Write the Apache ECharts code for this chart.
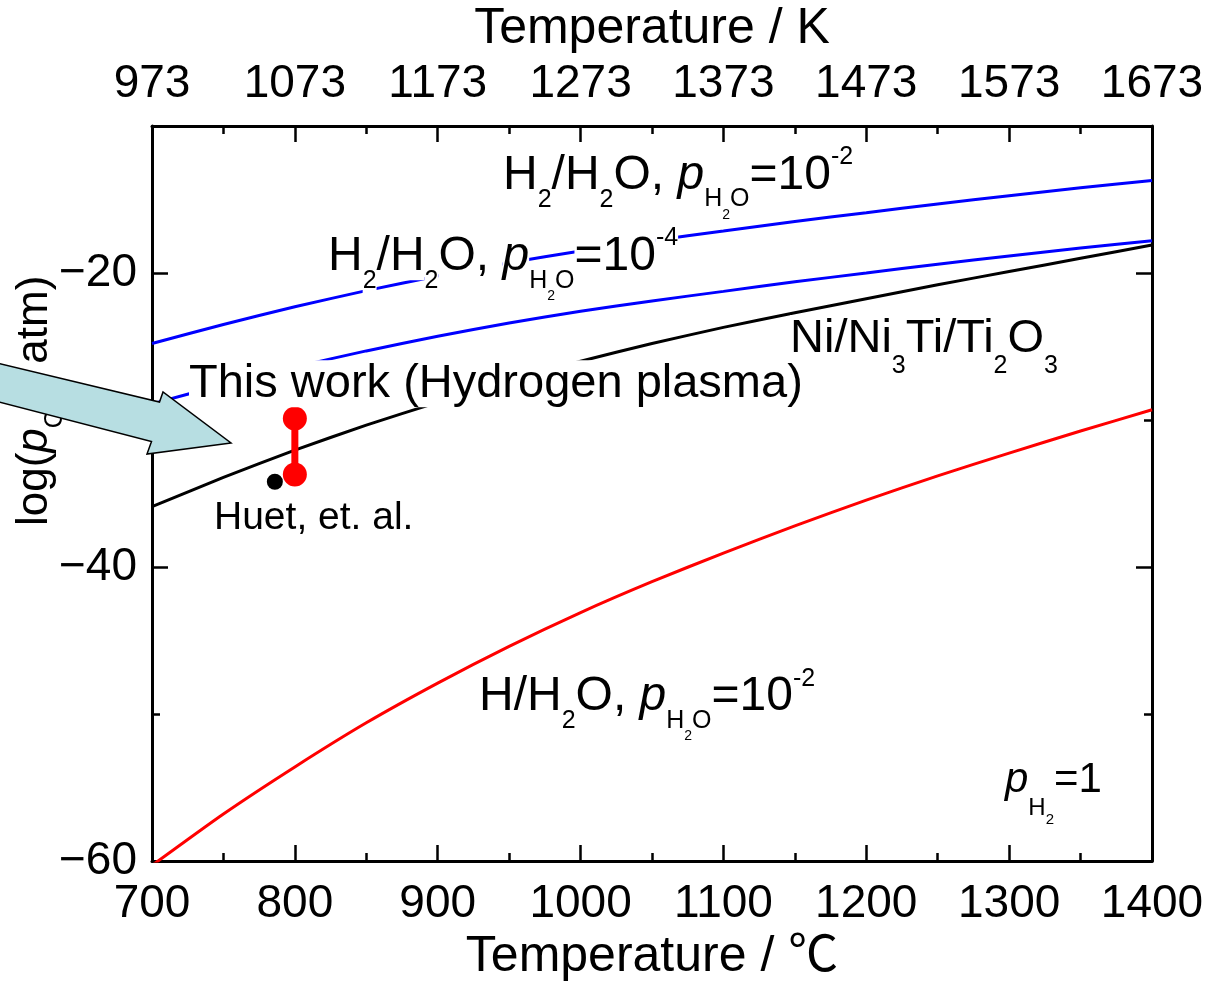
<!DOCTYPE html>
<html>
<head>
<meta charset="utf-8">
<script src="https://cdn.jsdelivr.net/npm/echarts@6.0.0/dist/echarts.min.js"></script>
<style>
  html, body { margin: 0; padding: 0; background: #fff; }
  #chart { width: 1221px; height: 984px; }
</style>
</head>
<body>
<div id="chart"></div>
<script>
// temperature grid (deg C) the curves were read at
const tempC = [700, 750, 800, 850, 900, 950, 1000, 1050, 1100, 1150, 1200, 1250, 1300, 1350, 1400];
// H2/H2O, pH2O = 1e-2
const h2High = [-24.8, -23.5, -22.3, -21.2, -20.2, -19.3, -18.5, -17.8, -17.15, -16.5, -15.9, -15.3, -14.75, -14.2, -13.7];
// H2/H2O, pH2O = 1e-4
const h2Low = [-28.9, -27.6, -26.4, -25.3, -24.3, -23.4, -22.6, -21.9, -21.25, -20.6, -20.0, -19.4, -18.85, -18.3, -17.8];
// Ni/Ni3Ti/Ti2O3 equilibrium
const niTi = [-35.9, -33.9, -32.05, -30.35, -28.8, -27.35, -26.0, -24.8, -23.7, -22.7, -21.75, -20.8, -19.9, -19.0, -18.1];
// H/H2O, pH2O = 1e-2
const hAtom = [-60.3, -56.8, -53.6, -50.6, -47.9, -45.4, -43.1, -41.0, -39.05, -37.2, -35.45, -33.8, -32.25, -30.75, -29.3];
// this work (range) and Huet et al.
const workX = [800, 800];
const workY = [-29.9, -33.7];
const huetX = [786];
const huetY = [-34.2];

const FONT = '"Liberation Sans", Arial, "Noto Sans CJK JP", sans-serif';
const mctx = document.createElement('canvas').getContext('2d');

// lay out text runs (with sub/superscripts) along a baseline
function runs(x0, base, parts, bg) {
  let x = x0;
  return parts.map(function (p) {
    const t = p[0], size = p[1], dy = p[2] || 0, italic = p[3];
    mctx.font = (italic ? 'italic ' : '') + size + 'px ' + FONT;
    const w = mctx.measureText(t).width;
    const el = {
      type: 'text',
      x: x,
      y: base + dy - 0.3465 * size,
      z: 50,
      style: {
        text: t,
        fontSize: size,
        fontFamily: FONT,
        fontStyle: italic ? 'italic' : 'normal',
        fill: '#000',
        align: 'left',
        verticalAlign: 'middle',
        backgroundColor: bg === false ? 'transparent' : '#fff'
      }
    };
    x += w;
    return el;
  });
}

function pairs(xs, ys) {
  return xs.map(function (t, i) { return [t, ys[i]]; });
}

const labels = [].concat(
  runs(503, 192, [['H', 48], ['2', 25, 17], ['/H', 48], ['2', 25, 17], ['O, ', 48], ['p', 48, 0, true],
    ['H', 25, 16], ['2', 14, 28], ['O', 25, 16], ['=10', 48], ['-2', 25, -26]]),
  runs(328, 273, [['H', 48], ['2', 25, 17], ['/H', 48], ['2', 25, 17], ['O, ', 48], ['p', 48, 0, true],
    ['H', 25, 17], ['2', 14, 28], ['O', 25, 17], ['=10', 48], ['-4', 25, -26]]),
  runs(189, 400, [['This work (Hydrogen plasma)', 47]]),
  runs(790, 355, [['Ni/Ni', 47], ['3', 25, 20], ['Ti/Ti', 47], ['2', 25, 20], ['O', 47], ['3', 25, 20]]),
  runs(214, 531.7, [['Huet, et. al.', 39]]),
  runs(479, 713, [['H/H', 48], ['2', 25, 17], ['O, ', 48], ['p', 48, 0, true],
    ['H', 25, 17], ['2', 14, 28], ['O', 25, 17], ['=10', 48], ['-2', 25, -25]]),
  runs(1005, 795, [['p', 42, 0, true], ['H', 24, 22], ['2', 15, 30], ['=1', 42]])
);

const yTitle = {
  type: 'group',
  x: 50,
  y: 526,
  rotation: Math.PI / 2,
  children: runs(0, 0, [['log(', 44], ['p', 44, 0, true], ['O', 25, 14], ['2', 15, 22], [' / atm)', 44]], false)
};

const arrow = {
  type: 'polygon',
  z: 200,
  shape: {
    points: [[-5, 362.5], [159.5, 402], [163, 392], [231, 443], [147, 454], [151.5, 441.5], [-5, 401]]
  },
  style: { fill: '#b7dee2', stroke: '#000', lineWidth: 1.5 }
};

const tickLabel = { color: '#000', fontSize: 46, fontFamily: FONT, lineHeight: 46 };
const axisLineStyle = { lineStyle: { color: '#000', width: 3 }, onZero: false };
const tickStyle = { inside: true, length: 16, lineStyle: { color: '#000', width: 2.5 } };
const minorStyle = { show: true, splitNumber: 2, length: 8, lineStyle: { color: '#000', width: 2.5 } };
const nameStyle = { color: '#000', fontSize: 50, fontFamily: FONT, lineHeight: 50 };

const chart = echarts.init(document.getElementById('chart'), null, { renderer: 'canvas' });

chart.setOption({
  animation: false,
  backgroundColor: '#fff',
  grid: { left: 152, right: 69, top: 126, bottom: 123, outerBoundsMode: 'none' },
  xAxis: [
    {
      type: 'value', position: 'bottom', min: 700, max: 1400, interval: 100,
      name: 'Temperature / ℃', nameLocation: 'middle', nameGap: 65, nameTextStyle: nameStyle,
      axisLine: axisLineStyle, axisTick: tickStyle, minorTick: minorStyle,
      splitLine: { show: false },
      axisLabel: Object.assign({ margin: 20, formatter: function (v) { return String(v); } }, tickLabel)
    },
    {
      type: 'value', position: 'top', min: 700, max: 1400, interval: 100,
      name: 'Temperature / K', nameLocation: 'middle', nameGap: 72, nameTextStyle: nameStyle,
      axisLine: axisLineStyle, axisTick: tickStyle, minorTick: minorStyle,
      splitLine: { show: false },
      axisLabel: Object.assign({ margin: 19, formatter: function (v) { return String(v + 273); } }, tickLabel)
    }
  ],
  yAxis: [
    {
      type: 'value', position: 'left', min: -60, max: -10, interval: 20,
      axisLine: axisLineStyle, axisTick: tickStyle, minorTick: minorStyle,
      splitLine: { show: false },
      axisLabel: Object.assign({
        margin: 15,
        formatter: function (v) { return v === -10 ? '' : '\u2212' + Math.abs(v); }
      }, tickLabel)
    },
    {
      type: 'value', position: 'right', min: -60, max: -10, interval: 20,
      axisLine: axisLineStyle, axisTick: tickStyle, minorTick: minorStyle,
      splitLine: { show: false },
      axisLabel: { show: false }
    }
  ],
  series: [
    {
      name: 'H2/H2O 1e-2', type: 'line', data: pairs(tempC, h2High), showSymbol: false, symbol: 'none',
      smooth: 0.2, lineStyle: { color: '#0000ff', width: 3 }, z: 2
    },
    {
      name: 'H2/H2O 1e-4', type: 'line', data: pairs(tempC, h2Low), showSymbol: false, symbol: 'none',
      smooth: 0.2, lineStyle: { color: '#0000ff', width: 3 }, z: 2
    },
    {
      name: 'Ni/Ni3Ti/Ti2O3', type: 'line', data: pairs(tempC, niTi), showSymbol: false, symbol: 'none',
      smooth: 0.2, lineStyle: { color: '#000', width: 3 }, z: 2
    },
    {
      name: 'H/H2O 1e-2', type: 'line', data: pairs(tempC, hAtom), showSymbol: false, symbol: 'none',
      smooth: 0.2, lineStyle: { color: '#ff0000', width: 3 }, z: 2
    },
    {
      name: 'This work', type: 'line', data: pairs(workX, workY), symbol: 'circle', symbolSize: 24,
      showSymbol: true, lineStyle: { color: '#ff0000', width: 7 }, itemStyle: { color: '#ff0000' }, z: 3
    },
    {
      name: 'Huet', type: 'scatter', data: pairs(huetX, huetY), symbol: 'circle', symbolSize: 16,
      itemStyle: { color: '#000', opacity: 1 }, z: 3
    }
  ],
  graphic: [].concat(labels, [yTitle, arrow])
});
</script>
</body>
</html>
